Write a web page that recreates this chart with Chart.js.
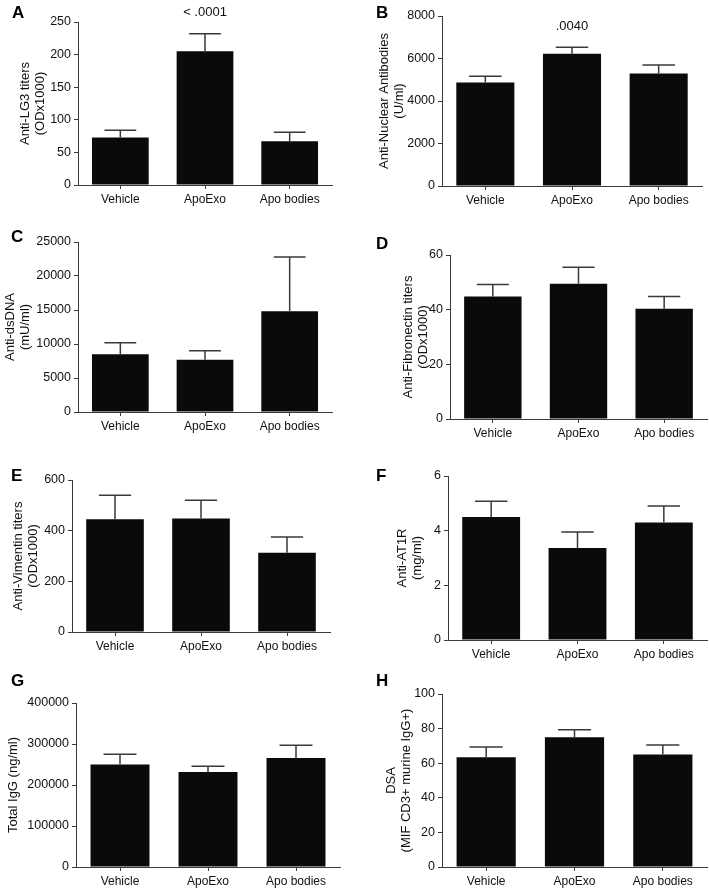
<!DOCTYPE html>
<html>
<head>
<meta charset="utf-8">
<script src="https://cdn.jsdelivr.net/npm/chart.js@4.4.1/dist/chart.umd.min.js"></script>
<style>
  html, body { margin: 0; padding: 0; background: #fff; overflow: hidden; }
  #fig { position: relative; width: 709px; height: 888px; }
  #fig canvas { position: absolute; }
  .tag { position: absolute; font: bold 17px "Liberation Sans", Arial, sans-serif; color: #000; }
</style>
</head>
<body>
<div id="fig"></div>
<script>
// groups shared by every panel
const groups = ['Vehicle', 'ApoExo', 'Apo bodies'];

// bar heights and SEM
const lg3Mean = [73, 205, 67];
const lg3Sem = [11, 27, 14];
const anaMean = [4870, 6220, 5300];
const anaSem = [300, 310, 400];
const dsdnaMean = [8500, 7700, 14800];
const dsdnaSem = [1700, 1300, 8000];
const fibroMean = [44.8, 49.5, 40.3];
const fibroSem = [4.4, 6.0, 4.5];
const vimMean = [445, 448, 313];
const vimSem = [95, 72, 62];
const at1rMean = [4.5, 3.37, 4.3];
const at1rSem = [0.58, 0.58, 0.6];
const iggMean = [250000, 232000, 266000];
const iggSem = [25000, 14000, 31000];
const dsaMean = [63.5, 75, 65];
const dsaSem = [5.8, 4.3, 5.5];

const fontFamily = '"Liberation Sans", Arial, Helvetica, sans-serif';
const axisColor = '#3a3a3a';

// draws the upward SEM whisker and optional p-value text
const errorBars = {
    id: 'errorBars',
    afterDatasetsDraw(chart, args, opts) {
        const ctx = chart.ctx;
        const yScale = chart.scales.y;
        const meta = chart.getDatasetMeta(0);
        const means = chart.data.datasets[0].data;
        ctx.save();
        ctx.strokeStyle = axisColor;
        ctx.lineWidth = 1.5;
        meta.data.forEach((bar, i) => {
            const yTop = yScale.getPixelForValue(means[i] + opts.sem[i]);
            const half = bar.width * 0.28;
            ctx.beginPath();
            ctx.moveTo(bar.x, bar.y);
            ctx.lineTo(bar.x, yTop);
            ctx.moveTo(bar.x - half, yTop);
            ctx.lineTo(bar.x + half, yTop);
            ctx.stroke();
        });
        if (opts.note) {
            const bar = meta.data[opts.note.index];
            ctx.fillStyle = '#111';
            ctx.font = '13px ' + fontFamily;
            ctx.textAlign = 'center';
            ctx.textBaseline = 'middle';
            ctx.fillText(opts.note.text, bar.x, yScale.getPixelForValue(opts.note.value));
        }
        ctx.restore();
    }
};

function makePanel(p) {
    const padTop = 20;
    const xAxisH = 28;
    const top = p.yTop - padTop;
    const width = p.x1 - p.col + 2;
    const height = p.yBot - top + xAxisH;

    const canvas = document.createElement('canvas');
    canvas.width = width;
    canvas.height = height;
    canvas.style.left = p.col + 'px';
    canvas.style.top = top + 'px';
    canvas.style.width = width + 'px';
    canvas.style.height = height + 'px';
    document.getElementById('fig').appendChild(canvas);

    const tag = document.createElement('div');
    tag.className = 'tag';
    tag.textContent = p.letter;
    tag.style.left = p.tag[0] + 'px';
    tag.style.top = p.tag[1] + 'px';
    document.getElementById('fig').appendChild(tag);

    new Chart(canvas.getContext('2d'), {
        type: 'bar',
        data: {
            labels: groups,
            datasets: [{
                data: p.mean,
                backgroundColor: '#0a0a0a',
                borderWidth: 0,
                categoryPercentage: 1,
                barPercentage: 0.67
            }]
        },
        options: {
            responsive: false,
            animation: false,
            events: [],
            layout: { padding: { top: padTop, right: 2, left: 0, bottom: 0 } },
            scales: {
                x: {
                    afterFit: s => { s.height = xAxisH; },
                    grid: { offset: false, drawOnChartArea: false, tickLength: 4, color: axisColor },
                    border: { color: axisColor, width: 1 },
                    ticks: { color: '#111', padding: 3, font: { family: fontFamily, size: 12 } }
                },
                y: {
                    min: 0,
                    max: p.max,
                    afterFit: s => { s.width = p.x0 - p.col; },
                    grid: { drawOnChartArea: false, tickLength: 4, color: axisColor },
                    border: { color: axisColor, width: 1 },
                    ticks: {
                        stepSize: p.step,
                        color: '#111',
                        padding: 3,
                        font: { family: fontFamily, size: 12.5 },
                        callback: v => String(v)
                    },
                    title: {
                        display: true,
                        text: p.title,
                        color: '#111',
                        padding: { top: p.titlePad, bottom: 0 },
                        font: { family: fontFamily, size: 13, lineHeight: 1.22 }
                    }
                }
            },
            plugins: {
                legend: { display: false },
                tooltip: { enabled: false },
                errorBars: { sem: p.sem, note: p.note }
            }
        },
        plugins: [errorBars]
    });
}

makePanel({ letter: 'A', tag: [12, 3], col: 0, x0: 78, x1: 332, yTop: 22, yBot: 185,
    max: 250, step: 50, mean: lg3Mean, sem: lg3Sem, titlePad: 17,
    title: ['Anti-LG3 titers', '(ODx1000)'], note: { index: 1, value: 264, text: '< .0001' } });
makePanel({ letter: 'B', tag: [376, 3], col: 355, x0: 442, x1: 702, yTop: 16, yBot: 186,
    max: 8000, step: 2000, mean: anaMean, sem: anaSem, titlePad: 21,
    title: ['Anti-Nuclear Antibodies', '(U/ml)'], note: { index: 1, value: 7530, text: '.0040' } });
makePanel({ letter: 'C', tag: [11, 227], col: 0, x0: 78, x1: 332, yTop: 242, yBot: 412,
    max: 25000, step: 5000, mean: dsdnaMean, sem: dsdnaSem, titlePad: 2,
    title: ['Anti-dsDNA', '(mU/ml)'] });
makePanel({ letter: 'D', tag: [376, 234], col: 355, x0: 450, x1: 707, yTop: 255, yBot: 419,
    max: 60, step: 20, mean: fibroMean, sem: fibroSem, titlePad: 45,
    title: ['Anti-Fibronectin titers', '(ODx1000)'] });
makePanel({ letter: 'E', tag: [11, 466], col: 0, x0: 72, x1: 330, yTop: 480, yBot: 632,
    max: 600, step: 200, mean: vimMean, sem: vimSem, titlePad: 10,
    title: ['Anti-Vimentin titers', '(ODx1000)'] });
makePanel({ letter: 'F', tag: [376, 466], col: 355, x0: 448, x1: 707, yTop: 476, yBot: 640,
    max: 6, step: 2, mean: at1rMean, sem: at1rSem, titlePad: 39,
    title: ['Anti-AT1R', '(mg/ml)'] });
makePanel({ letter: 'G', tag: [11, 671], col: 0, x0: 76, x1: 340, yTop: 703, yBot: 867,
    max: 400000, step: 100000, mean: iggMean, sem: iggSem, titlePad: 5,
    title: 'Total IgG (ng/ml)' });
makePanel({ letter: 'H', tag: [376, 671], col: 355, x0: 442, x1: 707, yTop: 694, yBot: 867,
    max: 100, step: 20, mean: dsaMean, sem: dsaSem, titlePad: 28,
    title: ['DSA', '(MIF CD3+ murine IgG+)'] });
</script>
</body>
</html>
